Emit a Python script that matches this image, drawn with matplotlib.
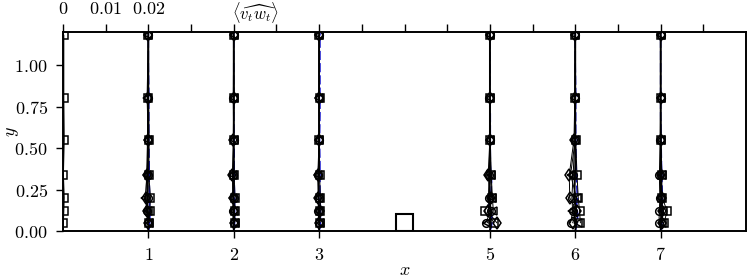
import matplotlib
matplotlib.use("Agg")
import matplotlib.pyplot as plt
from matplotlib.patches import Rectangle

plt.rcParams['mathtext.fontset'] = 'cm'
plt.rcParams['font.family'] = ['DejaVu Serif']

SCALE = 0.02  # <vw> value per unit of x

stations = [0, 1, 2, 3, 5, 6, 7]
y_mark = [0.05, 0.12, 0.20, 0.34, 0.55, 0.80, 1.18]

sq_vals = [
    [0.0001, 0.0002, 0.0003, 0.0001, 0.0003, 0.0002, 0.0002],
    [0.0002, 0.0003, 0.0005, 0.0001, 0.0002, 0.0000, 0.0000],
    [0.0002, 0.0002, 0.0003, 0.0001, 0.0000, 0.0001, 0.0000],
    [0.0002, 0.0003, 0.0003, 0.0001, 0.0000, 0.0001, 0.0000],
    [0.0010, -0.0012, 0.0004, 0.0002, 0.0001, 0.0000, 0.0000],
    [0.0012, 0.0010, 0.0007, 0.0004, 0.0001, 0.0000, 0.0000],
    [0.0008, 0.0015, 0.0004, 0.0002, 0.0001, 0.0000, 0.0000],
]
circ_vals = [
    None,
    [0.0000, -0.0003, -0.0001, -0.0002, 0.0000, -0.0001, 0.0000],
    [0.0000, -0.0001, 0.0000, -0.0001, 0.0000, -0.0001, 0.0000],
    [0.0000, -0.0002, -0.0001, -0.0002, 0.0000, 0.0000, 0.0000],
    [-0.0010, 0.0003, -0.0003, -0.0002, 0.0000, -0.0001, 0.0000],
    [-0.0011, -0.0006, -0.0008, -0.0005, -0.0001, -0.0001, 0.0000],
    [-0.0004, -0.0003, -0.0002, -0.0003, -0.0001, 0.0000, 0.0000],
]
diam_vals = [
    None,
    [-0.0001, -0.0004, -0.0006, -0.0004, -0.0002, -0.0002, 0.0000],
    [0.0001, 0.0000, -0.0002, -0.0003, -0.0001, 0.0000, 0.0000],
    [0.0000, 0.0001, -0.0002, -0.0003, 0.0000, 0.0000, 0.0000],
    [0.0016, -0.0005, 0.0002, -0.0004, 0.0000, 0.0000, 0.0000],
    [-0.0006, 0.0004, -0.0013, -0.0014, -0.0003, -0.0001, 0.0000],
    [0.0004, 0.0002, 0.0003, 0.0000, 0.0000, 0.0000, 0.0000],
]
tri_vals = [
    None,
    [0.0001, 0.0000, -0.0007, -0.0003, 0.0000, -0.0003, 0.0000],
    [0.0002, 0.0001, -0.0001, -0.0002, 0.0000, 0.0000, 0.0000],
    [0.0001, 0.0000, -0.0001, -0.0002, 0.0000, -0.0001, 0.0000],
    [-0.0006, 0.0008, 0.0006, 0.0003, 0.0001, 0.0000, 0.0000],
    [0.0006, -0.0008, 0.0003, -0.0011, 0.0000, 0.0000, 0.0000],
    [0.0002, 0.0006, 0.0001, 0.0003, 0.0000, 0.0000, 0.0000],
]

y_line = [0.0, 0.02, 0.05, 0.10, 0.15, 0.20, 0.30, 0.40, 0.55, 0.70, 0.85, 1.00, 1.20]
blue_vals = [
    [0.0001, 0.0001, 0.0001, 0.0001, 0.0001, 0.0001, 0.0001, 0.0001, 0.0001, 0.0001, 0.0001, 0.0001, None],
    [0.0000, 0.0002, 0.0003, 0.0004, 0.0003, 0.0003, 0.0002, 0.0002, 0.0001, 0.0001, 0.0001, 0.0000, 0.0000],
    [0.0000, 0.0001, 0.0002, 0.0002, 0.0002, 0.0002, 0.0001, 0.0001, 0.0001, 0.0000, 0.0000, 0.0000, 0.0000],
    [0.0000, 0.0002, 0.0003, 0.0003, 0.0003, 0.0002, 0.0002, 0.0002, 0.0001, 0.0002, 0.0002, 0.0002, 0.0002],
    [0.0000, 0.0003, 0.0005, 0.0004, -0.0003, 0.0002, 0.0004, 0.0001, 0.0001, 0.0001, 0.0000, 0.0000, 0.0000],
    [0.0000, 0.0002, 0.0004, 0.0006, 0.0003, 0.0005, 0.0003, 0.0002, 0.0001, 0.0001, 0.0001, 0.0000, 0.0000],
    [0.0000, 0.0002, 0.0003, 0.0004, 0.0003, 0.0004, 0.0003, 0.0002, 0.0001, 0.0000, 0.0000, 0.0000, 0.0000],
]
black_vals = [
    [0.0000, 0.0000, 0.0000, 0.0000, 0.0000, 0.0000, 0.0000, 0.0000, 0.0000, 0.0000, 0.0000, 0.0000, 0.0000],
    [0.0000, 0.0000, -0.0001, -0.0001, -0.0002, -0.0002, -0.0001, -0.0001, -0.0001, 0.0000, 0.0000, 0.0000, 0.0000],
    [0.0000, 0.0000, 0.0000, -0.0001, -0.0001, -0.0001, -0.0001, 0.0000, 0.0000, 0.0000, 0.0000, 0.0000, 0.0000],
    [0.0000, 0.0000, 0.0000, -0.0001, -0.0001, -0.0001, -0.0001, 0.0000, 0.0000, 0.0000, 0.0000, 0.0000, 0.0000],
    [0.0000, 0.0001, -0.0002, 0.0003, 0.0001, -0.0002, 0.0000, 0.0000, 0.0000, 0.0000, 0.0000, 0.0000, 0.0000],
    [0.0000, 0.0001, 0.0000, -0.0002, 0.0001, -0.0002, -0.0001, 0.0000, 0.0000, 0.0000, 0.0000, 0.0000, 0.0000],
    [0.0000, 0.0000, 0.0001, 0.0001, 0.0000, 0.0001, 0.0000, 0.0000, 0.0000, 0.0000, 0.0000, 0.0000, 0.0000],
]

x_ticks = [1, 2, 3, 5, 6, 7]
y_ticks = [0.0, 0.25, 0.5, 0.75, 1.0]
top_ticks = [0.0, 0.01, 0.02, 0.03, 0.04, 0.05, 0.06, 0.07, 0.08, 0.09, 0.10,
             0.11, 0.12, 0.13, 0.14, 0.15]
top_labels = ['0', '0.01', '0.02']

obstacle_x = 3.9
obstacle_w = 0.2
obstacle_h = 0.1

fig = plt.figure(figsize=(7.47, 2.80), dpi=100)
ax = fig.add_axes([0.0843, 0.175, 0.9144, 0.711])


def prof(st, vals, ys):
    xs, yy = [], []
    for v, y in zip(vals, ys):
        if v is None:
            continue
        xs.append(st + v / SCALE)
        yy.append(y)
    return xs, yy

for i, st in enumerate(stations):
    xb, yb = prof(st, blue_vals[i], y_line)
    ax.plot(xb, yb, color='#1010d0', lw=1.1, ls=(0, (6, 2)), zorder=2)
    xk, yk = prof(st, black_vals[i], y_line)
    ax.plot(xk, yk, color='k', lw=1.3, zorder=3)
    for vals, mk, ms in [(sq_vals, 's', 5.5), (circ_vals, 'o', 5.5),
                         (diam_vals, 'd', 6), (tri_vals, '<', 5.5)]:
        if vals[i] is None:
            continue
        xm, ym = prof(st, vals[i], y_mark)
        ax.plot(xm, ym, color='k', lw=0.7, marker=mk, ms=ms, mfc='none',
                mec='k', mew=1.1, zorder=4)

ax.add_patch(Rectangle((obstacle_x, 0), obstacle_w, obstacle_h, fill=False,
                       ec='k', lw=1.5, zorder=5))

ax.set_xlim(0, 8)
ax.set_ylim(0, 1.2)
ax.set_xticks(x_ticks)
ax.set_xticklabels([r'$%d$' % t for t in x_ticks])
ax.set_yticks(y_ticks)
ax.set_yticklabels([r'$%.2f$' % t for t in y_ticks])
ax.tick_params(direction='out', length=5, width=1, labelsize=13, pad=6)
ax.set_xlabel(r'$x$', fontsize=13)
ax.set_ylabel(r'$y$', fontsize=13)
ax.xaxis.set_label_coords(0.5, -0.15)
ax.yaxis.set_label_coords(-0.062, 0.5)
for s in ax.spines.values():
    s.set_linewidth(1.2)

ax2 = ax.twiny()
ax2.set_xlim(0, 8 * SCALE)
ax2.set_xticks(top_ticks)
ax2.set_xticklabels([r'$%s$' % top_labels[i] if i < len(top_labels) else ''
                     for i in range(len(top_ticks))])
ax2.tick_params(direction='out', length=6, width=1, labelsize=13, pad=4)
for s in ax2.spines.values():
    s.set_linewidth(1.2)
ax2.text(2.25 * SCALE, 1.035, r'$\langle\widehat{v_t w_t}\rangle$',
         transform=ax2.get_xaxis_transform(), ha='center', va='bottom',
         fontsize=12)

fig.savefig('out.png', dpi=100)
